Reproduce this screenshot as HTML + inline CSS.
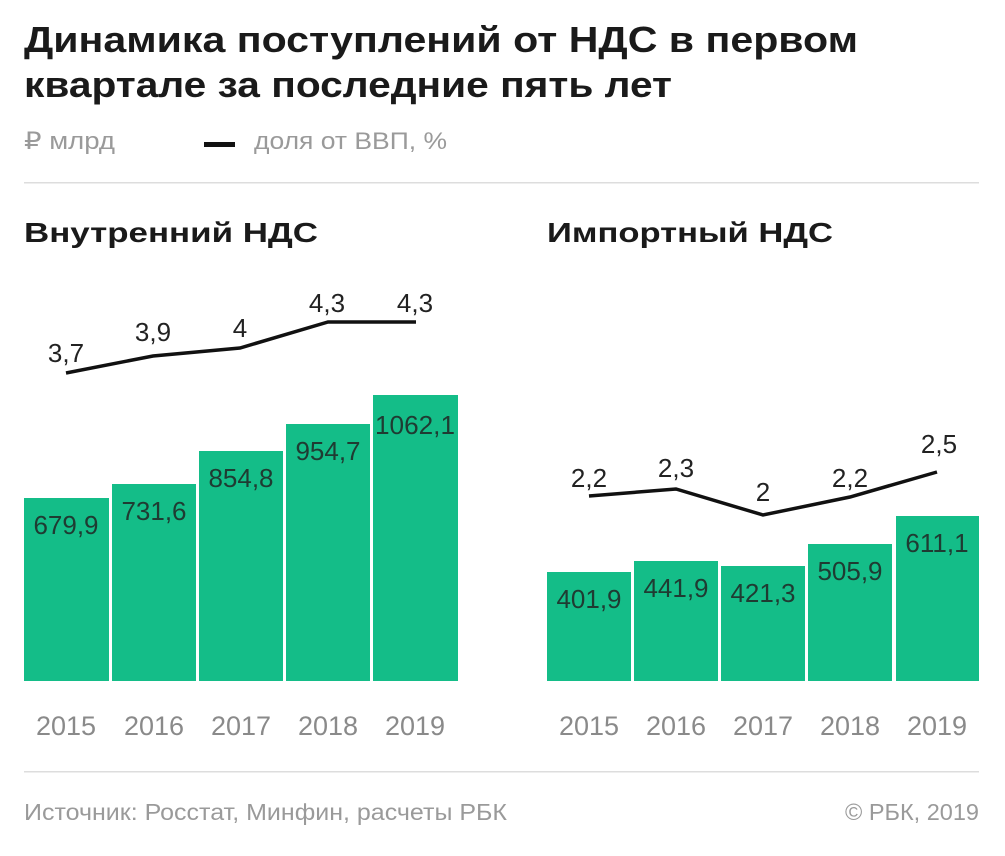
<!DOCTYPE html>
<html><head><meta charset="utf-8"><style>
body{margin:0;background:#fff;width:1005px;height:851px;overflow:hidden;font-family:"Liberation Sans","DejaVu Sans",sans-serif}
svg text{font-family:"Liberation Sans","DejaVu Sans",sans-serif}
</style></head><body>
<svg width="1005" height="851" viewBox="0 0 1005 851">
<text x="24" y="52" font-size="36" font-weight="bold" fill="#1a1a1a" textLength="834" lengthAdjust="spacingAndGlyphs">Динамика поступлений от НДС в первом</text>
<text x="24" y="97" font-size="36" font-weight="bold" fill="#1a1a1a" textLength="648" lengthAdjust="spacingAndGlyphs">квартале за последние пять лет</text>
<text x="24" y="149" font-size="24" fill="#9a9a9a" textLength="91" lengthAdjust="spacingAndGlyphs">₽ млрд</text>
<rect x="204" y="142" width="31" height="5" fill="#111"/>
<text x="254" y="149" font-size="24" fill="#9a9a9a" textLength="193" lengthAdjust="spacingAndGlyphs">доля от ВВП, %</text>
<rect x="24" y="182" width="955" height="1.5" fill="#ddd"/>
<text x="24" y="242" font-size="28" font-weight="bold" fill="#1a1a1a" textLength="294" lengthAdjust="spacingAndGlyphs">Внутренний НДС</text>
<text x="547" y="242" font-size="28" font-weight="bold" fill="#1a1a1a" textLength="286" lengthAdjust="spacingAndGlyphs">Импортный НДС</text>
<g fill="#14bd88">
<rect x="24" y="498" width="85" height="183"/>
<rect x="112" y="484" width="84" height="197"/>
<rect x="199" y="451" width="84" height="230"/>
<rect x="286" y="424" width="84" height="257"/>
<rect x="373" y="395" width="85" height="286"/>
<rect x="547" y="572" width="84" height="109"/>
<rect x="634" y="561" width="84" height="120"/>
<rect x="721" y="566" width="84" height="115"/>
<rect x="808" y="544" width="84" height="137"/>
<rect x="896" y="516" width="83" height="165"/>
</g>
<g font-size="26" fill="#1f3b32" text-anchor="middle">
<text x="66" y="534">679,9</text><text x="154" y="520">731,6</text><text x="241" y="487">854,8</text><text x="328" y="460">954,7</text><text x="415" y="434" textLength="80" lengthAdjust="spacingAndGlyphs">1062,1</text>
<text x="589" y="608">401,9</text><text x="676" y="597">441,9</text><text x="763" y="602">421,3</text><text x="850" y="580">505,9</text><text x="937" y="552">611,1</text>
</g>
<polyline points="66,373 153,356 240,348 328,322 416,322" fill="none" stroke="#111" stroke-width="3.5"/>
<polyline points="589,496 676,489 763,515 850,497 937,472" fill="none" stroke="#111" stroke-width="3.5"/>
<g font-size="26" fill="#222" text-anchor="middle">
<text x="66" y="362">3,7</text><text x="153" y="341">3,9</text><text x="240" y="337">4</text><text x="327" y="312">4,3</text><text x="415" y="312">4,3</text>
<text x="589" y="487">2,2</text><text x="676" y="477">2,3</text><text x="763" y="501">2</text><text x="850" y="487">2,2</text><text x="939" y="453">2,5</text>
</g>
<g font-size="27" fill="#8a8a8a" text-anchor="middle">
<text x="66" y="735">2015</text><text x="154" y="735">2016</text><text x="241" y="735">2017</text><text x="328" y="735">2018</text><text x="415" y="735">2019</text>
<text x="589" y="735">2015</text><text x="676" y="735">2016</text><text x="763" y="735">2017</text><text x="850" y="735">2018</text><text x="937" y="735">2019</text>
</g>
<rect x="24" y="771" width="955" height="1.5" fill="#ddd"/>
<text x="24" y="820" font-size="23" fill="#9a9a9a" textLength="483" lengthAdjust="spacingAndGlyphs">Источник: Росстат, Минфин, расчеты РБК</text>
<text x="979" y="820" font-size="23" fill="#9a9a9a" text-anchor="end" textLength="134" lengthAdjust="spacingAndGlyphs">© РБК, 2019</text>
</svg>
</body></html>
